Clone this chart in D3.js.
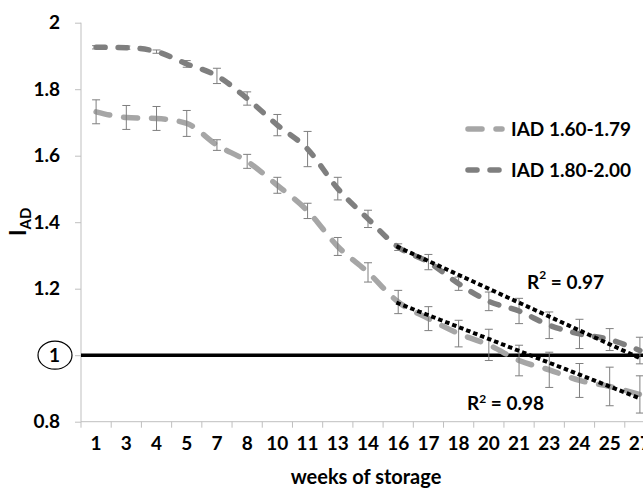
<!DOCTYPE html>
<html>
<head>
  <meta charset="utf-8">
  <title>IAD storage</title>
  <style>
    body { margin: 0; background: #fff; }
    svg { display: block; font-family: Lato, 'Open Sans', sans-serif; font-weight: bold; }
    .axis path, .axis line { stroke: #bfbfbf; }
  </style>
</head>
<body>
  <div id="chart"></div>
  <script src="https://cdnjs.cloudflare.com/ajax/libs/d3/7.8.5/d3.min.js"></script>
  <script>
    // weeks of storage (categories)
    var weeks = [1, 3, 4, 5, 7, 8, 10, 11, 13, 14, 16, 17, 18, 20, 21, 23, 24, 25, 27];

    // IAD 1.60-1.79
    var low = [1.732, 1.715, 1.712, 1.697, 1.632, 1.583, 1.511, 1.434, 1.327, 1.249,
      1.160, 1.110, 1.065, 1.031, 0.984, 0.956, 0.924, 0.906, 0.882];
    var lowErr = [0.036, 0.036, 0.036, 0.039, 0.016, 0.021, 0.024, 0.023, 0.027, 0.029,
      0.035, 0.036, 0.040, 0.047, 0.046, 0.053, 0.051, 0.058, 0.056];

    // IAD 1.80-2.00
    var high = [1.926, 1.925, 1.913, 1.876, 1.840, 1.772, 1.692, 1.620, 1.501, 1.410,
      1.325, 1.280, 1.215, 1.162, 1.133, 1.090, 1.064, 1.047, 1.014];
    var highErr = [0.005, 0.005, 0.005, 0.010, 0.023, 0.020, 0.032, 0.053, 0.034, 0.026,
      0.010, 0.023, 0.020, 0.028, 0.038, 0.040, 0.044, 0.033, 0.040];

    // linear trend lines, week 16 to week 27
    var trendHigh = [{ week: 16, v: 1.325 }, { week: 27, v: 0.991 }];
    var trendLow = [{ week: 16, v: 1.156 }, { week: 27, v: 0.870 }];

    var yTicks = [0.8, 1, 1.2, 1.4, 1.6, 1.8, 2];
    var seriesNames = ['IAD 1.60-1.79', 'IAD 1.80-2.00'];

    var W = 643, H = 491;
    var margin = { left: 81, right: 655, top: 22.7, bottom: 421.7 };

    var svg = d3.select('#chart').append('svg')
      .attr('width', W)
      .attr('height', H);

    var x = d3.scaleBand().domain(weeks).range([margin.left, margin.right]);
    var y = d3.scaleLinear().domain([0.8, 2]).range([margin.bottom, margin.top]);
    var cx = function(w) { return x(w) + x.bandwidth() / 2; };

    // y axis
    var yAxis = svg.append('g')
      .attr('class', 'axis')
      .attr('transform', 'translate(' + margin.left + ',0)')
      .call(d3.axisLeft(y).tickValues(yTicks).tickSize(6).tickSizeOuter(0)
        .tickFormat(function(d) { return String(+d.toFixed(1)); }));
    yAxis.selectAll('text')
      .attr('x', -21)
      .style('font-size', '19px')
      .style('fill', '#000')
      .style('font-family', 'Lato, sans-serif');
    yAxis.select('.domain').attr('d', 'M0,' + margin.top + 'V' + margin.bottom);

    // x axis with ticks between categories
    var xg = svg.append('g')
      .attr('class', 'axis')
      .attr('transform', 'translate(0,' + margin.bottom + ')');
    xg.append('line').attr('x1', margin.left).attr('x2', W).attr('stroke', '#bfbfbf');
    xg.selectAll('line.tk')
      .data(weeks)
      .enter().append('line')
      .attr('class', 'tk')
      .attr('x1', function(d) { return x(d); })
      .attr('x2', function(d) { return x(d); })
      .attr('y1', 0).attr('y2', 6)
      .attr('stroke', '#bfbfbf');
    xg.selectAll('text')
      .data(weeks)
      .enter().append('text')
      .attr('x', cx)
      .attr('y', 22)
      .attr('dy', '0.35em')
      .attr('text-anchor', 'middle')
      .style('font-size', '19px')
      .text(function(d) { return d; });

    svg.append('text')
      .attr('x', 366)
      .attr('y', 484)
      .attr('text-anchor', 'middle')
      .style('font-size', '20px')
      .text('weeks of storage');

    // y label
    var yl = svg.append('text')
      .attr('transform', 'translate(26,236) rotate(-90)')
      .style('font-size', '22px');
    yl.append('tspan').text('I');
    yl.append('tspan').attr('dy', 5).style('font-size', '15px').text('AD');

    // circle round the "1"
    svg.append('ellipse')
      .attr('cx', 55).attr('cy', y(1))
      .attr('rx', 17).attr('ry', 14)
      .attr('fill', 'none')
      .attr('stroke', '#000')
      .attr('stroke-width', 1.2);

    // reference line at 1
    svg.append('line')
      .attr('x1', margin.left).attr('x2', W)
      .attr('y1', y(1)).attr('y2', y(1))
      .attr('stroke', '#000')
      .attr('stroke-width', 3.5);

    var line = d3.line()
      .x(function(d) { return cx(d.week); })
      .y(function(d) { return y(d.v); })
      .curve(d3.curveMonotoneX);

    var series = [
      { name: seriesNames[0], vals: low, err: lowErr, color: '#a6a6a6', dash: '14,14' },
      { name: seriesNames[1], vals: high, err: highErr, color: '#7f7f7f', dash: '9,13' }
    ];

    series.forEach(function(s) {
      var pts = weeks.map(function(w, i) { return { week: w, v: s.vals[i] }; });
      svg.append('path')
        .datum(pts)
        .attr('d', line)
        .attr('fill', 'none')
        .attr('stroke', s.color)
        .attr('stroke-width', 5.5)
        .attr('stroke-linecap', 'round')
        .attr('stroke-dasharray', s.dash);
    });

    // error bars
    series.forEach(function(s) {
      var g = svg.append('g').attr('stroke', '#7f7f7f').attr('stroke-width', 1);
      weeks.forEach(function(w, i) {
        var x0 = cx(w), y1 = y(s.vals[i] + s.err[i]), y2 = y(s.vals[i] - s.err[i]);
        g.append('line').attr('x1', x0).attr('x2', x0).attr('y1', y1).attr('y2', y2);
        g.append('line').attr('x1', x0 - 4).attr('x2', x0 + 4).attr('y1', y1).attr('y2', y1);
        g.append('line').attr('x1', x0 - 4).attr('x2', x0 + 4).attr('y1', y2).attr('y2', y2);
      });
    });

    // trend lines
    var straight = d3.line()
      .x(function(d) { return cx(d.week); })
      .y(function(d) { return y(d.v); });
    [trendHigh, trendLow].forEach(function(t) {
      svg.append('path')
        .attr('d', straight(t))
        .attr('fill', 'none')
        .attr('stroke', '#000')
        .attr('stroke-width', 4)
        .attr('stroke-linecap', 'square')
        .attr('stroke-dasharray', '0.5,7');
    });

    // R squared labels
    function rLabel(px, py, val, sup) {
      var t = svg.append('text').attr('x', px).attr('y', py).style('font-size', '19px');
      t.append('tspan').text('R');
      t.append('tspan').attr('dy', sup).style('font-size', '12px').text('2');
      t.append('tspan').attr('dy', -sup).text(' = ' + val);
    }
    rLabel(527, 289, '0.97', -10);
    rLabel(467, 410, '0.98', -7);

    // legend
    var legend = svg.append('g');
    series.forEach(function(s, i) {
      var ly = 129 + i * 41;
      legend.append('line')
        .attr('x1', 468).attr('x2', 502)
        .attr('y1', ly).attr('y2', ly)
        .attr('stroke', s.color)
        .attr('stroke-width', 5.5)
        .attr('stroke-linecap', 'round')
        .attr('stroke-dasharray', s.dash);
      legend.append('text')
        .attr('x', 511).attr('y', ly)
        .attr('dy', '0.35em')
        .style('font-size', '19px')
        .text(s.name);
    });
  </script>
</body>
</html>
